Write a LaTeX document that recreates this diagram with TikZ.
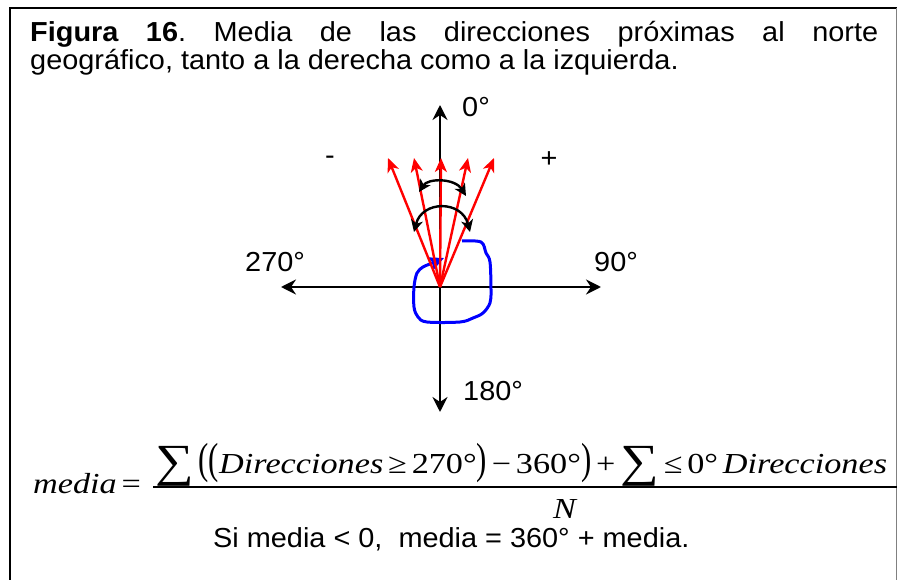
\documentclass[tikz,border=0pt]{standalone}
\usepackage{graphicx}
\usepackage{fontspec}
\setmainfont{Liberation Sans}[FakeStretch=1.05]
\newfontfamily\tms{Liberation Serif}[FakeStretch=1.18]
\usetikzlibrary{arrows.meta}
\newcommand\bparen[1]{\scalebox{0.9}[1.5]{#1}}
\newcommand\bigsum{\raisebox{-3pt}{\fontsize{46}{46}\selectfont ∑}}
\begin{document}
\begin{tikzpicture}[x=1pt,y=-1pt,
  lbl/.style={inner sep=0pt, font=\fontsize{27.5}{30}\selectfont},
  frm/.style={inner sep=0pt, font=\tms\fontsize{29}{30}\selectfont},
  axis/.style={line width=2.6pt, {Stealth[length=15pt,width=15pt,inset=5pt]}-{Stealth[length=15pt,width=15pt,inset=5pt]}},
  dirarrow/.style={red, line width=2.4pt, -{Stealth[length=14pt,width=12pt,inset=4pt]}},
  swing/.style={line width=2.4pt, {Stealth[length=12pt,width=12pt,inset=3.5pt]}-{Stealth[length=12pt,width=12pt,inset=3.5pt]}},
  loop/.style={blue, line width=3pt, -{Stealth[length=15pt,width=14pt,inset=3pt]}},
]
\useasboundingbox (0,0) rectangle (898,580);
% frame
\draw[line width=2pt] (10,580) -- (10,8) -- (897,8);
\draw[gray, line width=1.2pt] (896.5,8) -- (896.5,580);
% title
\node[lbl, anchor=base west] (t1) at (30,42) {\frenchspacing\makebox[848pt][s]{\textbf{Figura 16}. Media de las direcciones próximas al norte}};
\node[lbl, anchor=base west] (t2) at (30,70) {geográfico, tanto a la derecha como a la izquierda.};
% axes
\coordinate (O) at (440,287);
\coordinate (N0) at (440,105);
\coordinate (S0) at (440,412);
\coordinate (W0) at (281,287);
\coordinate (E0) at (601,287);
\draw[axis] (S0) -- (N0);
\draw[axis] (W0) -- (E0);
% labels
\node[lbl, anchor=base west] (l0) at (462,117) {0°};
\node[lbl, anchor=base west] (l270) at (245,272) {270°};
\node[lbl, anchor=base west] (l90) at (594,272) {90°};
\node[lbl, anchor=base west] (l180) at (463,400) {180°};
\node[lbl] (lm) at (330,160) {-};
\node[lbl] (lp) at (549,160) {+};
% blue loop
\draw[loop] plot[smooth, tension=0.55] coordinates {(462,241) (481,242) (486,253) (490,262) (491,290) (490,303) (483,313) (473,318) (460,322) (427,322) (418,317) (414,307) (414,287) (417,273) (423,267) (430,264) (444,258)};
% red direction arrows
\coordinate (r1) at (388,158);
\coordinate (r2) at (414,158);
\coordinate (r3) at (441,158);
\coordinate (r4) at (468,158);
\coordinate (r5) at (494,158);
\foreach \r in {r1,r2,r3,r4,r5} \draw[dirarrow] (O) -- (\r);
% swing arcs
\coordinate (a1) at (419,192); \coordinate (a2) at (466,196);
\coordinate (b1) at (414,232); \coordinate (b2) at (470,232);
\draw[swing] (a1) .. controls (428,178) and (455,178) .. (a2);
\draw[swing] (b1) .. controls (422,200) and (462,200) .. (b2);
% formula
\node[frm, anchor=base west] (med) at (33,493) {\textit{media}\,=};
\node[frm, anchor=base west] (num) at (155,473) {\bigsum\,\bparen{(}\bparen{(}\textit{Direcciones}\,≥\,270°\bparen{)}\,−\,360°\bparen{)}\,+\,\bigsum\,≤\,0°\,\textit{Direcciones}};
\coordinate (fb1) at (153,487);
\coordinate (fb2) at (897,487);
\draw[line width=1.5pt] (fb1) -- (fb2);
\node[frm, anchor=base west] (den) at (553,518) {\textit{N}};
\node[lbl, anchor=base west] (cond) at (213,547) {Si media < 0,\ \ media = 360° + media.};
\end{tikzpicture}
\end{document}
